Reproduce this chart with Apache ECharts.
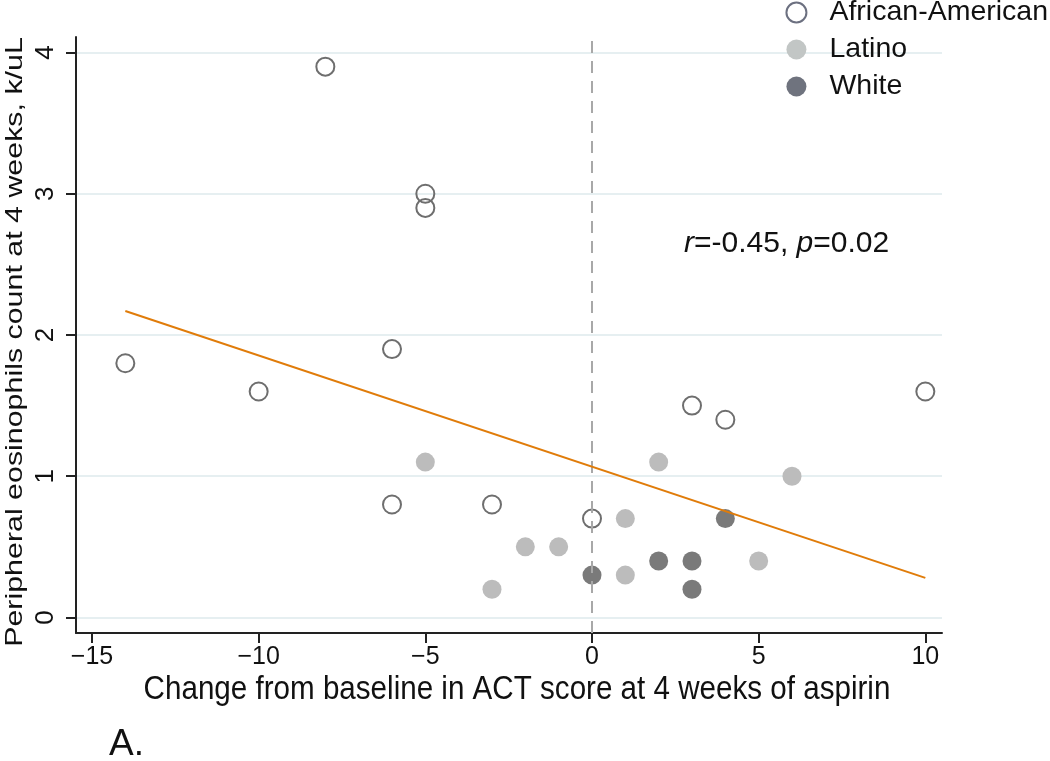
<!DOCTYPE html>
<html><head><meta charset="utf-8">
<script src="https://cdn.jsdelivr.net/npm/echarts@6/dist/echarts.min.js"></script>
<style>html,body{margin:0;padding:0;background:#fff}#c{width:1050px;height:761px}</style>
</head><body><div id="c"></div>
<script>
const afrX = [-14, -10, -8, -5, -5, -6, -6, -3, 0, 3, 4, 10];
const afrY = [1.8, 1.6, 3.9, 3.0, 2.9, 1.9, 0.8, 0.8, 0.7, 1.5, 1.4, 1.6];
const latX = [-5, -3, -2, -1, 1, 1, 2, 5, 6];
const latY = [1.1, 0.2, 0.5, 0.5, 0.7, 0.3, 1.1, 0.4, 1.0];
const whiX = [0, 2, 3, 3, 4];
const whiY = [0.3, 0.4, 0.4, 0.2, 0.7];
const fitX = [-14, 10];
const fitY = [2.17, 0.28];
const xTicks = [-15, -10, -5, 0, 5, 10];
const yTicks = [0, 1, 2, 3, 4];

const zip = (a, b) => a.map((v, i) => [v, b[i]]);
const FONT = '"Liberation Sans", Arial, sans-serif';
const chart = echarts.init(document.getElementById('c'), null, {renderer: 'canvas'});
chart.setOption({
  animation: false,
  backgroundColor: '#fff',
  grid: {left: 76, right: 108, top: 37, bottom: 128, containLabel: false},
  xAxis: {
    type: 'value', min: -15.48, max: 10.5,
    axisLine: {show: true, onZero: false, lineStyle: {color: '#222', width: 2}},
    axisTick: {show: true, length: 10, lineStyle: {color: '#222', width: 2},
      customValues: xTicks},
    axisLabel: {fontFamily: FONT, fontSize: 25, color: '#111', margin: 12,
      customValues: xTicks, formatter: v => String(v).replace('-', '\u2212')},
    splitLine: {show: false}
  },
  yAxis: {
    type: 'value', min: -0.11, max: 4.11,
    axisLine: {show: true, onZero: false, lineStyle: {color: '#222', width: 2}},
    axisTick: {show: true, length: 10, lineStyle: {color: '#222', width: 2},
      customValues: yTicks},
    axisLabel: {fontFamily: FONT, fontSize: 26, color: '#111', rotate: 90, margin: 17,
      customValues: yTicks},
    splitLine: {show: true, lineStyle: {color: '#e6eff1', width: 2}},
    splitNumber: 4
  },
  legend: {
    orient: 'vertical', right: 2, top: -2, padding: 0, itemWidth: 56, itemHeight: 20, itemGap: 8,
    textStyle: {fontFamily: FONT, fontSize: 28.5, color: '#111'},
    data: [
      {name: 'African-American', icon: 'circle', itemStyle: {color: '#fff', borderColor: '#6c7080', borderWidth: 2}},
      {name: 'Latino', icon: 'circle', itemStyle: {color: '#c2c6c5'}},
      {name: 'White', icon: 'circle', itemStyle: {color: '#6f737e'}}
    ]
  },
  graphic: [
    {type: 'text', x: 684, y: 244, z: 100, style: {
      text: '{i|r}{n|=-0.45, }{i|p}{n|=0.02}', verticalAlign: 'middle',
      rich: {
        i: {fontFamily: FONT, fontSize: 30, fontStyle: 'italic', fill: '#111'},
        n: {fontFamily: FONT, fontSize: 30, fill: '#111'}
      }}},
    {type: 'text', x: 517, y: 690, scaleY: 1.12, style: {text: 'Change from baseline in ACT score at 4 weeks of aspirin',
      fontFamily: FONT, fontSize: 29.6, fill: '#111', align: 'center', verticalAlign: 'middle'}},
    {type: 'text', x: 15, y: 342, rotation: Math.PI / 2, scaleX: 1.24, style: {text: 'Peripheral eosinophils count at 4 weeks, k/uL',
      fontFamily: FONT, fontSize: 24.5, fill: '#111', align: 'center', verticalAlign: 'middle'}},
    {type: 'text', x: 109, y: 745, style: {text: 'A.', fontFamily: FONT, fontSize: 37, fill: '#111', verticalAlign: 'middle'}}
  ],
  series: [
    {
      name: 'zero', type: 'line', data: [], z: 1,
      markLine: {silent: true, symbol: 'none', label: {show: false},
        lineStyle: {color: '#a8a8a8', width: 2, type: [12, 8]},
        data: [{xAxis: 0}]}
    },
    {
      name: 'Latino', type: 'scatter', data: zip(latX, latY), symbolSize: 19, z: 3,
      itemStyle: {color: '#bcbcbc', opacity: 1}
    },
    {
      name: 'White', type: 'scatter', data: zip(whiX, whiY), symbolSize: 19, z: 3,
      itemStyle: {color: '#7a7a7a', opacity: 1}
    },
    {
      name: 'African-American', type: 'scatter', data: zip(afrX, afrY), symbolSize: 18, z: 3,
      itemStyle: {color: 'rgba(255,255,255,0)', borderColor: '#6e6e6e', borderWidth: 2, opacity: 1}
    },
    {
      name: 'fit', type: 'line', data: zip(fitX, fitY), z: 5, symbol: 'none',
      lineStyle: {color: '#e07c0a', width: 2}
    }
  ]
});
</script></body></html>
